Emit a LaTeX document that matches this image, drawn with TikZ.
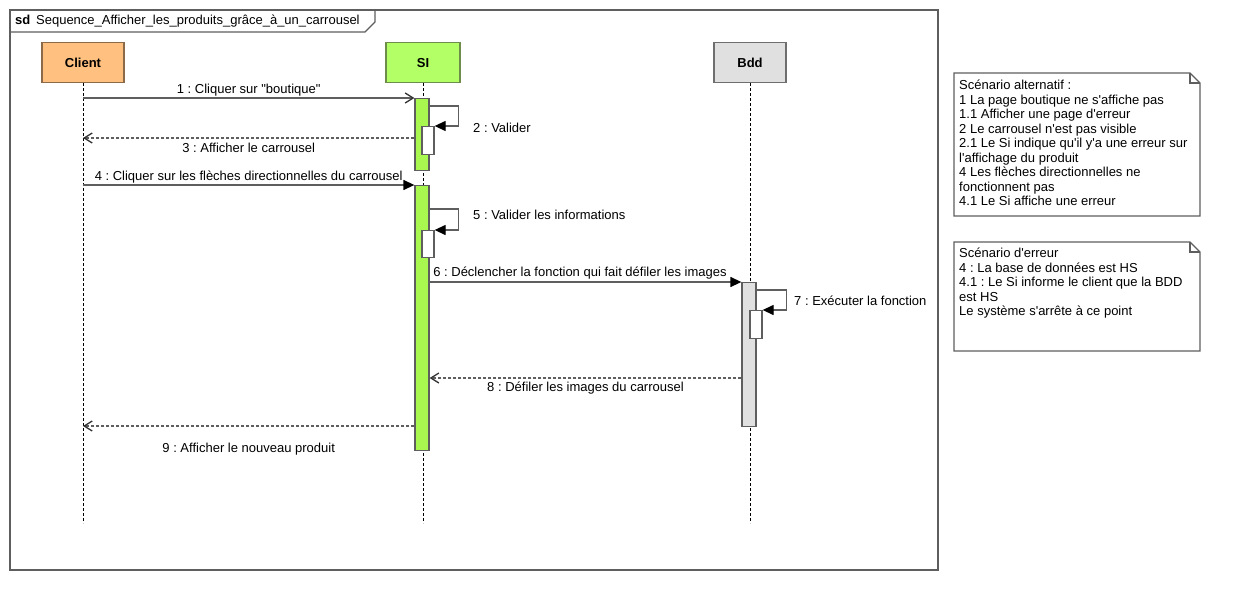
\documentclass[tikz,border=0pt]{standalone}
\usepackage{fontspec}
\setmainfont{Liberation Sans}
\usetikzlibrary{arrows.meta,positioning}

\definecolor{clientfill}{HTML}{FFC080}
\definecolor{clientline}{HTML}{8C6A48}
\definecolor{sifill}{HTML}{B2FF66}
\definecolor{siline}{HTML}{6E8C4A}
\definecolor{actfill}{HTML}{A8F850}
\definecolor{bddfill}{HTML}{E0E0E0}
\definecolor{bddline}{HTML}{6E6E6E}
\definecolor{edge}{HTML}{5E5E5E}

\newcommand{\apos}{\textquotesingle}

\begin{document}
\frenchspacing
\begin{tikzpicture}[x=1pt, y=-1pt,
    every node/.style={font=\fontsize{13}{14.5}\selectfont},
    head/.style={draw, rectangle, line width=1.3pt, minimum height=40, inner sep=0,
        font=\fontsize{13}{14.5}\selectfont\bfseries, anchor=north},
    act/.style={draw=edge, rectangle, line width=1.3pt, minimum width=14, inner sep=0, anchor=north},
    nested/.style={act, fill=white, minimum width=12},
    lifeline/.style={draw=black, line width=0.8pt, dash pattern=on 3pt off 2pt},
    call/.style={draw=edge, line width=1.3pt, -{Triangle[length=11,width=10,color=black]}},
    async/.style={draw=edge, line width=1.3pt, -{Straight Barb[length=8,width=10,color=black!80]}},
    reply/.style={draw=edge, line width=1.3pt, dash pattern=on 3pt off 2pt, -{Straight Barb[length=8,width=10,color=black!80]}},
    lbl/.style={inner sep=1pt},
    frame/.style={draw=edge, line width=1.3pt},
    note/.style={draw=edge, line width=1.2pt, fill=white},
    notetext/.style={align=left, inner sep=0, anchor=north west}
]
\useasboundingbox[fill=white] (0,0) rectangle (1241,610);

% frame
\draw[frame] (10,10) rectangle (938,570);
\draw[frame] (10,32) -- (365,32) -- (375,22) -- (375,10);
\node[anchor=west, inner sep=0] (title) at (15,21) {\textbf{sd}\, Sequence\_Afficher\_les\_produits\_grâce\_à\_un\_carrousel};

% lifelines
\node[head, fill=clientfill, draw=clientline, minimum width=82] (client) at (83,42) {Client};
\node[head, fill=sifill, draw=siline, minimum width=74] (si) at (423,42) {SI};
\node[head, fill=bddfill, draw=bddline, minimum width=72] (bdd) at (750,42) {Bdd};

\draw[lifeline] (client.south) -- ++(0,440);
\draw[lifeline] (si.south) -- ++(0,440);
\draw[lifeline] (bdd.south) -- ++(0,440);

% activations
\node[act, fill=actfill, minimum height=72] (si1) at (422,98) {};
\node[act, fill=actfill, minimum height=265] (si2) at (422,185) {};
\node[act, fill=bddfill, minimum height=144] (bd) at (749,282) {};
\node[nested, minimum height=28] (v2) at (428,126) {};
\node[nested, minimum height=27] (v5) at (428,230) {};
\node[nested, minimum height=28] (v7) at (756,310) {};

% messages
\draw[async] (client.south |- si1.north) -- node[above, lbl] (l1) {1 : Cliquer sur \textquotedbl boutique\textquotedbl} (si1.north west);

\draw[call] ([yshift=-8]si1.north east) -- ++(29,0) |- (v2.north east);
\node[lbl, anchor=west] (l2) at (472,128) {2 : Valider};

\coordinate (r3) at ([yshift=-40]si1.north west);
\draw[reply] (r3) -- node[below, lbl, yshift=-3] (l3) {3 : Afficher le carrousel} (client.south |- r3);

\draw[call] (client.south |- si2.north) -- node[above, lbl] (l4) {4 : Cliquer sur les flèches directionnelles du carrousel} (si2.north west);

\draw[call] ([yshift=-24]si2.north east) -- ++(29,0) |- (v5.north east);
\node[lbl, anchor=west] (l5) at (472,215) {5 : Valider les informations};

\draw[call] (si2.east |- bd.north) -- node[pos=0, anchor=south west, lbl, xshift=2, yshift=1] (l6) {6 : Déclencher la fonction qui fait défiler les images} (bd.north west);

\draw[call] ([yshift=-8]bd.north east) -- ++(30,0) |- (v7.north east);
\node[lbl, anchor=west] (l7) at (793,301) {7 : Exécuter la fonction};

\coordinate (r8) at ([yshift=-96]bd.north west);
\draw[reply] (r8) -- node[below, lbl, yshift=-2] (l8) {8 : Défiler les images du carrousel} (si2.east |- r8);

\coordinate (r9) at ([yshift=-241]si2.north west);
\draw[reply] (r9) -- node[below, lbl, yshift=-15] (l9) {9 : Afficher le nouveau produit} (client.south |- r9);

% notes
\draw[note] (954,73) -- (1190,73) -- (1200,83) -- (1200,216) -- (954,216) -- cycle;
\draw[note, fill=none] (1190,73) -- (1190,83) -- (1200,83);
\node[notetext] (alt) at (959,80) {Scénario alternatif :\\
1 La page boutique ne s\apos affiche pas\\
1.1 Afficher une page d\apos erreur\\
2 Le carrousel n\apos est pas visible\\
2.1 Le Si indique qu\apos il y\apos a une erreur sur\\
l\apos affichage du produit\\
4 Les flèches directionnelles ne\\
fonctionnent pas\\
4.1 Le Si affiche une erreur};

\draw[note] (954,242) -- (1190,242) -- (1200,252) -- (1200,351) -- (954,351) -- cycle;
\draw[note, fill=none] (1190,242) -- (1190,252) -- (1200,252);
\node[notetext] (err) at (959,248) {Scénario d\apos erreur\\
4 : La base de données est HS\\
4.1 : Le Si informe le client que la BDD\\
est HS\\
Le système s\apos arrête à ce point};
\end{tikzpicture}
\end{document}
